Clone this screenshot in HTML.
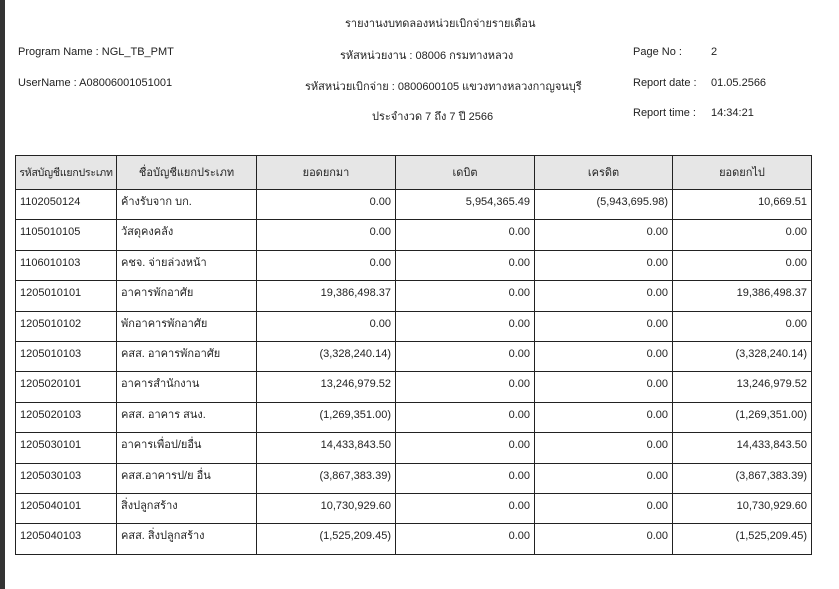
<!DOCTYPE html>
<html><head><meta charset="utf-8"><style>
body{margin:0;width:839px;height:589px;background:#fff;position:relative;overflow:hidden;font-family:"Liberation Sans","DejaVu Sans",sans-serif;font-size:11px;color:#222}
.bar{position:absolute;left:0;top:0;width:5px;height:589px;background:#333}
.t{position:absolute;white-space:nowrap}
table{position:absolute;left:15px;top:155px;border-collapse:collapse;table-layout:fixed;width:796px}
td,th{border:1.3px solid #222;padding:0 4px;vertical-align:top;font-weight:normal;white-space:nowrap;overflow:hidden;line-height:14px}
th{height:33px;vertical-align:middle;background:#e6e6e6;text-align:center}
th.f{padding:0 1px;font-size:10.5px;letter-spacing:-0.2px}
tr.r{height:30.4px}
td{padding-top:5px;padding-bottom:0}
td.n{text-align:right}
</style></head><body>
<div class="bar"></div>
<div class="t" style="left:345px;top:14px">รายงานงบทดลองหน่วยเบิกจ่ายรายเดือน</div>
<div class="t" style="left:18px;top:46px">Program Name : NGL_TB_PMT</div>
<div class="t" style="left:340px;top:46px">รหัสหน่วยงาน : 08006 กรมทางหลวง</div>
<div class="t" style="left:633px;top:46px">Page No :</div>
<div class="t" style="left:711px;top:46px">2</div>
<div class="t" style="left:18px;top:77px">UserName : A08006001051001</div>
<div class="t" style="left:305px;top:77px">รหัสหน่วยเบิกจ่าย : 0800600105 แขวงทางหลวงกาญจนบุรี</div>
<div class="t" style="left:633px;top:77px">Report date :</div>
<div class="t" style="left:711px;top:77px">01.05.2566</div>
<div class="t" style="left:372px;top:107px">ประจำงวด 7 ถึง 7 ปี 2566</div>
<div class="t" style="left:633px;top:107px">Report time :</div>
<div class="t" style="left:711px;top:107px">14:34:21</div>
<table>
<colgroup><col style="width:101px"><col style="width:140px"><col style="width:139px"><col style="width:139px"><col style="width:138px"><col style="width:139px"></colgroup>
<tr><th class="f">รหัสบัญชีแยกประเภท</th><th>ชื่อบัญชีแยกประเภท</th><th>ยอดยกมา</th><th>เดบิต</th><th>เครดิต</th><th>ยอดยกไป</th></tr>
<tr class="r"><td>1102050124</td><td>ค้างรับจาก บก.</td><td class="n">0.00</td><td class="n">5,954,365.49</td><td class="n">(5,943,695.98)</td><td class="n">10,669.51</td></tr>
<tr class="r"><td>1105010105</td><td>วัสดุคงคลัง</td><td class="n">0.00</td><td class="n">0.00</td><td class="n">0.00</td><td class="n">0.00</td></tr>
<tr class="r"><td>1106010103</td><td>คชจ. จ่ายล่วงหน้า</td><td class="n">0.00</td><td class="n">0.00</td><td class="n">0.00</td><td class="n">0.00</td></tr>
<tr class="r"><td>1205010101</td><td>อาคารพักอาศัย</td><td class="n">19,386,498.37</td><td class="n">0.00</td><td class="n">0.00</td><td class="n">19,386,498.37</td></tr>
<tr class="r"><td>1205010102</td><td>พักอาคารพักอาศัย</td><td class="n">0.00</td><td class="n">0.00</td><td class="n">0.00</td><td class="n">0.00</td></tr>
<tr class="r"><td>1205010103</td><td>คสส. อาคารพักอาศัย</td><td class="n">(3,328,240.14)</td><td class="n">0.00</td><td class="n">0.00</td><td class="n">(3,328,240.14)</td></tr>
<tr class="r"><td>1205020101</td><td>อาคารสำนักงาน</td><td class="n">13,246,979.52</td><td class="n">0.00</td><td class="n">0.00</td><td class="n">13,246,979.52</td></tr>
<tr class="r"><td>1205020103</td><td>คสส. อาคาร สนง.</td><td class="n">(1,269,351.00)</td><td class="n">0.00</td><td class="n">0.00</td><td class="n">(1,269,351.00)</td></tr>
<tr class="r"><td>1205030101</td><td>อาคารเพื่อป/ยอื่น</td><td class="n">14,433,843.50</td><td class="n">0.00</td><td class="n">0.00</td><td class="n">14,433,843.50</td></tr>
<tr class="r"><td>1205030103</td><td>คสส.อาคารป/ย อื่น</td><td class="n">(3,867,383.39)</td><td class="n">0.00</td><td class="n">0.00</td><td class="n">(3,867,383.39)</td></tr>
<tr class="r"><td>1205040101</td><td>สิ่งปลูกสร้าง</td><td class="n">10,730,929.60</td><td class="n">0.00</td><td class="n">0.00</td><td class="n">10,730,929.60</td></tr>
<tr class="r"><td>1205040103</td><td>คสส. สิ่งปลูกสร้าง</td><td class="n">(1,525,209.45)</td><td class="n">0.00</td><td class="n">0.00</td><td class="n">(1,525,209.45)</td></tr>
</table>
</body></html>
